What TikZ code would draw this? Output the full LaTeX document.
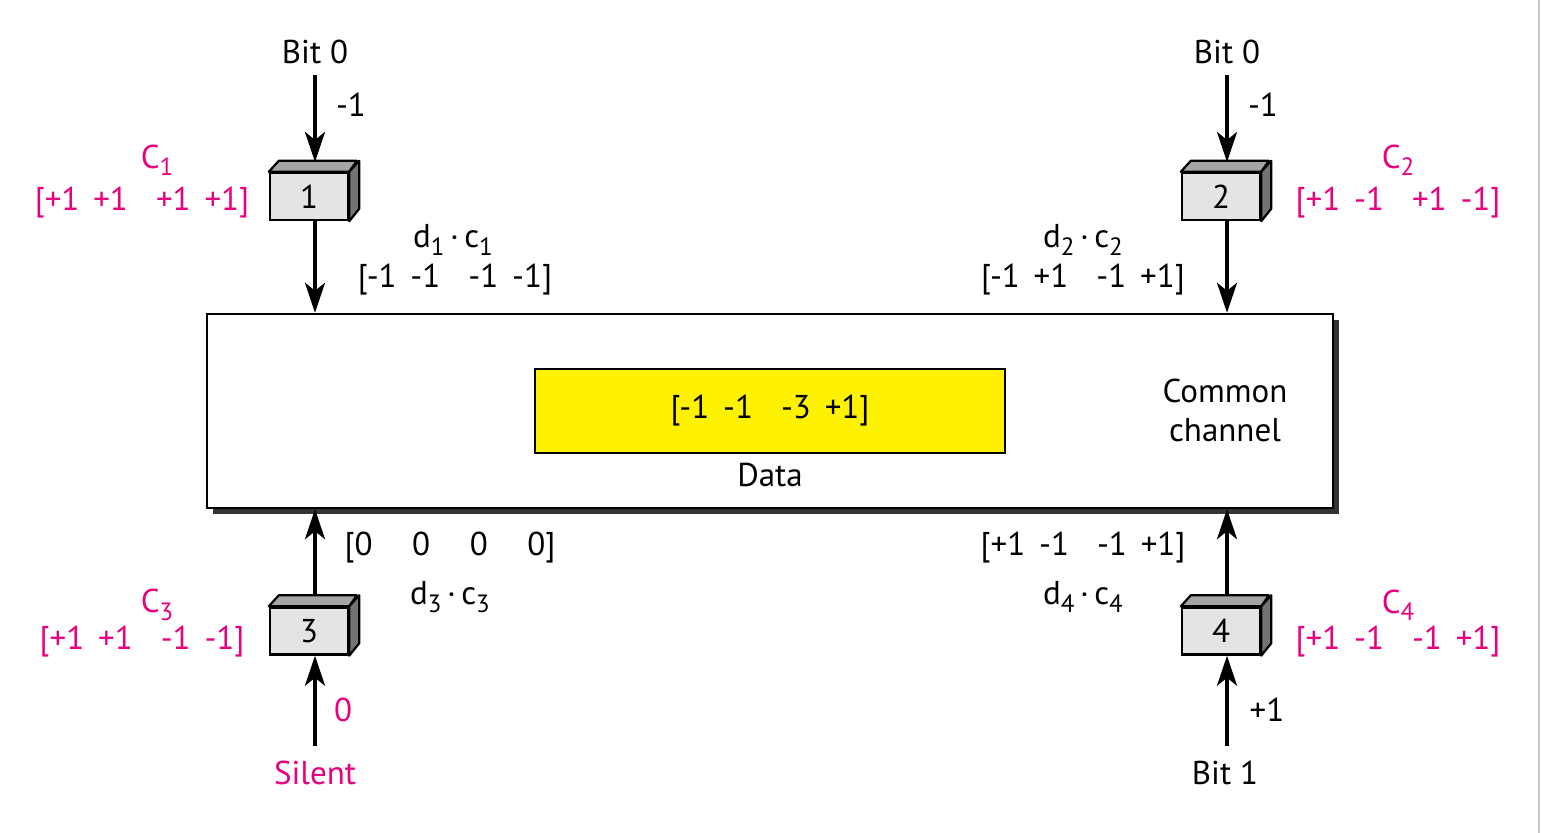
\documentclass[tikz,border=0pt]{standalone}
\usepackage{fontspec}
\setmainfont{PT Sans}
\usetikzlibrary{arrows.meta}
\definecolor{mag}{RGB}{232,0,126}
\definecolor{frontgray}{RGB}{228,228,228}
\definecolor{topgray}{RGB}{165,165,165}
\definecolor{sidegray}{RGB}{115,115,115}
\newcommand{\sbs}[1]{\raisebox{-0.45ex}{\fontsize{12.5}{12.5}\selectfont #1}}
\newcommand{\gA}{\hspace{0.42em}}
\newcommand{\gB}{\hspace{0.85em}}
\begin{document}
\begin{tikzpicture}[x=0.5pt,y=-0.5pt,
  every node/.style={font=\fontsize{16.5}{19.5}\selectfont, inner sep=0pt},
  arr/.style={line width=1.9pt,-{Stealth[length=15pt,width=10pt,inset=4pt]}},
  front/.style={draw,line width=1.2pt,fill=frontgray,minimum width=39pt,minimum height=23.5pt},
  face/.style={draw,line width=1.1pt,line join=round},
  lbl/.style={align=center},
  mlbl/.style={text=mag,align=center}]
\useasboundingbox (0,0) rectangle (1541,833);
\fill[white] (0,0) rectangle (1541,833);
\draw[line width=1pt,color=black!22] (1539,0) -- (1539,833);
% main channel
\fill[black!80] (213,320) rectangle (1339,514);
\node[draw,line width=1.2pt,fill=white,minimum width=563pt,minimum height=97pt] (ch) at (770,411) {};
\node[draw,line width=1.1pt,fill=yellow,minimum width=235pt,minimum height=42pt] (data) at (770,411) {[-1\gA-1\gB-3\gA+1]};
\node[lbl] (datalbl) at (770,475) {Data};
\node[lbl] (cc) at (1225,410) {Common\\channel};
% boxes
\foreach \n/\x/\y in {1/309/196.5, 2/1221/196.5, 3/309/631, 4/1221/631}{
  \node[front] (b\n) at (\x,\y) {\n};
  \draw[face,fill=topgray] (b\n.north west) -- ++(10,-11) -- ++(78,0) -- (b\n.north east) -- cycle;
  \draw[face,fill=sidegray] (b\n.north east) -- ++(10,-11) -- ++(0,48) -- (b\n.south east) -- cycle;
  \node[front] at (\x,\y) {\n};
}
\coordinate (t1) at (315,162);
\coordinate (t2) at (1227,162);
\coordinate (t3) at (315,596);
\coordinate (t4) at (1227,596);
% top inputs
\node[lbl] (bit1) at (315,52) {Bit 0};
\node[lbl] (bit2) at (1227,52) {Bit 0};
\draw[arr] (bit1.south |- 0,75) -- (t1);
\draw[arr] (bit2.south |- 0,75) -- (t2);
\node[lbl] (m1) at (351,105) {-1};
\node[lbl] (m2) at (1263,105) {-1};
\draw[arr] (b1.south -| t1) -- (ch.north -| t1);
\draw[arr] (b2.south -| t2) -- (ch.north -| t2);
% bottom inputs
\node[mlbl] (sil) at (315,773) {Silent};
\node[lbl] (bit4) at (1225,773) {Bit 1};
\coordinate (s3) at (315,746);
\coordinate (s4) at (1227,746);
\draw[arr] (s3) -- (b3.south -| t3);
\draw[arr] (s4) -- (b4.south -| t4);
\node[mlbl] (z3) at (343,710) {0};
\node[lbl] (p4) at (1267,710) {+1};
\draw[arr] (t3) -- (ch.south -| t3);
\draw[arr] (t4) -- (ch.south -| t4);
% codes
\node[mlbl] (c1) at (157,160) {C\sbs{1}};
\node[mlbl] (v1) at (142,203) {[+1\gA+1\gB+1\gA+1]};
\node[mlbl] (c2) at (1398,160) {C\sbs{2}};
\node[mlbl] (v2) at (1398,203) {[+1\gA-1\gB+1\gA-1]};
\node[mlbl] (c3) at (157,605) {C\sbs{3}};
\node[mlbl] (v3) at (142,642) {[+1\gA+1\gB-1\gA-1]};
\node[mlbl] (c4) at (1398,605) {C\sbs{4}};
\node[mlbl] (v4) at (1398,642) {[+1\gA-1\gB-1\gA+1]};
% products
\node[lbl] (p1) at (453,240) {d\sbs{1}\,·\,c\sbs{1}};
\node[lbl] (w1) at (455,280) {[-1\gA-1\gB-1\gA-1]};
\node[lbl] (p2) at (1083,240) {d\sbs{2}\,·\,c\sbs{2}};
\node[lbl] (w2) at (1083,280) {[-1\gA+1\gB-1\gA+1]};
\node[lbl] (w3) at (450,548) {[0\hspace{1.2em}0\hspace{1.2em}0\hspace{1.2em}0]};
\node[lbl] (p3) at (450,597) {d\sbs{3}\,·\,c\sbs{3}};
\node[lbl] (w4) at (1083,548) {[+1\gA-1\gB-1\gA+1]};
\node[lbl] (p4b) at (1083,597) {d\sbs{4}\,·\,c\sbs{4}};
\end{tikzpicture}
\end{document}
